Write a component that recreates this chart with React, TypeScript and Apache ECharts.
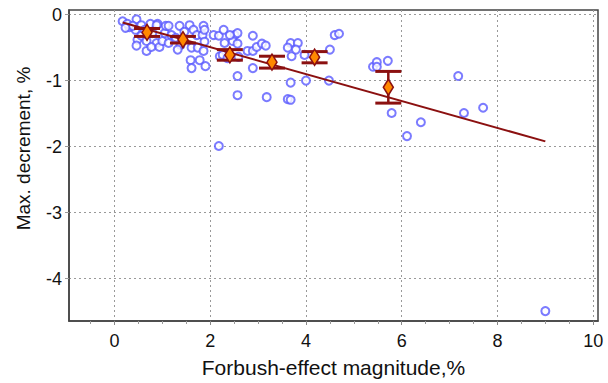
import React, { useEffect, useRef } from "react";
import * as echarts from "echarts";

const scatterX = [
  0.17, 0.31, 0.44, 0.46, 0.56, 0.48, 0.56, 0.67, 0.67, 0.79, 0.90, 0.88, 0.77, 0.94, 1.00, 1.05, 1.07, 0.75, 0.88, 0.27, 0.38, 0.63,
  1.13, 1.36, 1.19, 1.57, 1.65, 1.72, 1.86, 1.84, 2.07, 2.18, 1.13, 1.38, 1.61, 1.74, 1.86, 2.20, 1.59, 1.78, 1.61, 1.90, 1.88, 1.28, 1.46, 1.88, 1.32,
  2.28, 2.51, 2.57, 2.30, 2.47, 2.57, 2.26, 2.36, 2.59, 2.89, 2.78, 2.89, 2.97, 3.08, 2.89, 2.57, 2.57, 3.18, 2.18, 2.41, 3.16,
  3.68, 3.83, 3.62, 3.70, 3.97, 4.60, 4.69, 4.50, 3.68, 4.00, 4.48, 3.62, 3.68, 3.79,
  5.40, 5.48, 5.48, 5.71, 5.79, 6.11, 6.40, 7.18, 7.30, 7.70, 9.00, 0.46, 0.23,
];
const scatterY = [
  -0.10, -0.19, -0.23, -0.07, -0.16, -0.38, -0.32, -0.40, -0.55, -0.28, -0.14, -0.43, -0.49, -0.49, -0.40, -0.28, -0.17, -0.14, -0.16, -0.14, -0.17, -0.23,
  -0.17, -0.17, -0.31, -0.16, -0.23, -0.31, -0.17, -0.31, -0.31, -0.32, -0.43, -0.46, -0.50, -0.50, -0.55, -0.63, -0.69, -0.69, -0.81, -0.78, -0.41, -0.35, -0.26, -0.23, -0.53,
  -0.23, -0.31, -0.28, -0.43, -0.40, -0.44, -0.61, -0.66, -0.64, -0.32, -0.55, -0.55, -0.49, -0.44, -0.81, -0.93, -1.22, -1.25, -1.99, -0.31, -0.47,
  -0.43, -0.43, -0.50, -0.63, -0.61, -0.31, -0.29, -0.53, -1.03, -1.00, -1.00, -1.28, -1.29, -0.53,
  -0.79, -0.72, -0.79, -0.70, -1.49, -1.84, -1.63, -0.93, -1.49, -1.41, -4.49, -0.47, -0.20,
];

const meanX = [0.68, 1.43, 2.41, 3.29, 4.18, 5.72];
const meanY = [-0.27, -0.38, -0.61, -0.72, -0.645, -1.10];
const meanErr = [0.06, 0.05, 0.08, 0.09, 0.085, 0.24];

const fitX = [0.17, 9.0];
const fitY = [-0.12, -1.92];

const xTickValues = [0, 2, 4, 6, 8, 10];
const xMinorTickValues = [-0.5, 0.5, 1, 1.5, 2.5, 3, 3.5, 4.5, 5, 5.5, 6.5, 7, 7.5, 8.5, 9, 9.5];
const yTickValues = [0, -1, -2, -3, -4];

const FONT = "Liberation Sans, Arial, sans-serif";
const DARK_RED = "#8b1010";

export default function App() {
  const ref = useRef<HTMLDivElement>(null);
  useEffect(() => {
    if (!ref.current) return;
    const chart = echarts.init(ref.current, null, { renderer: "svg" });
    const scatterData = scatterX.map((x, i) => [x, scatterY[i]]);
    const meanData = meanX.map((x, i) => [x, meanY[i], meanErr[i]]);
    const fitData = fitX.map((x, i) => [x, fitY[i]]);
    chart.setOption({
      animation: false,
      backgroundColor: "#ffffff",
      grid: {
        left: 69,
        right: 10,
        top: 10,
        bottom: 62,
        show: true,
        borderColor: "#444",
        borderWidth: 1.5,
        backgroundColor: "transparent",
      },
      xAxis: [
        {
          type: "value",
          min: -0.95,
          max: 10.1,
          position: "bottom",
          name: "Forbush-effect magnitude,%",
          nameLocation: "middle",
          nameGap: 36,
          nameTextStyle: { fontFamily: FONT, fontSize: 21, color: "#111" },
          axisLine: { show: true, onZero: false, lineStyle: { color: "#444", width: 1.5 } },
          axisTick: { show: true, customValues: xTickValues, length: 4, lineStyle: { color: "#888" } },
          axisLabel: { customValues: xTickValues, margin: 11, fontFamily: FONT, fontSize: 18, color: "#111" },
          splitLine: { show: true, lineStyle: { color: "#999", type: [2, 3], width: 1 } },
        },
        {
          type: "value",
          min: -0.95,
          max: 10.1,
          position: "bottom",
          axisLine: { show: false, onZero: false },
          axisTick: { show: true, customValues: xMinorTickValues, length: 3, lineStyle: { color: "#999" } },
          axisLabel: { show: false },
          splitLine: { show: false },
        },
      ],
      yAxis: {
        type: "value",
        min: -4.64,
        max: 0.07,
        name: "Max. decrement, %",
        nameLocation: "middle",
        nameGap: 36,
        nameTextStyle: { fontFamily: FONT, fontSize: 19, color: "#111", padding: [0, 0, 0, 34] },
        axisLine: { show: true, onZero: false, lineStyle: { color: "#444", width: 1.5 } },
        axisTick: { show: true, customValues: yTickValues, length: 4, lineStyle: { color: "#999" } },
        axisLabel: { customValues: yTickValues, margin: 7, fontFamily: FONT, fontSize: 18, color: "#111" },
        splitLine: { show: true, lineStyle: { color: "#999", type: [2, 3], width: 1 } },
      },
      series: [
        {
          type: "scatter",
          data: scatterData,
          symbol: "emptyCircle",
          symbolSize: 8,
          itemStyle: { color: "#5a5aff", borderColor: "#5a5aff", borderWidth: 1.2 },
          z: 2,
        },
        {
          type: "line",
          data: fitData,
          showSymbol: false,
          lineStyle: { color: DARK_RED, width: 2 },
          z: 3,
        },
        {
          type: "custom",
          data: meanData,
          z: 4,
          renderItem: (params: any, api: any) => {
            const x = api.value(0);
            const y = api.value(1);
            const e = api.value(2);
            const top = api.coord([x, y + e]);
            const bot = api.coord([x, y - e]);
            const c = api.coord([x, y]);
            const hw = 13;
            const dw = 5;
            const dh = 8;
            return {
              type: "group",
              children: [
                { type: "line", shape: { x1: top[0], y1: top[1], x2: bot[0], y2: bot[1] }, style: { stroke: DARK_RED, lineWidth: 2.5 } },
                { type: "line", shape: { x1: top[0] - hw, y1: top[1], x2: top[0] + hw, y2: top[1] }, style: { stroke: DARK_RED, lineWidth: 3 } },
                { type: "line", shape: { x1: bot[0] - hw, y1: bot[1], x2: bot[0] + hw, y2: bot[1] }, style: { stroke: DARK_RED, lineWidth: 3 } },
                {
                  type: "polygon",
                  shape: { points: [[c[0], c[1] - dh], [c[0] + dw, c[1]], [c[0], c[1] + dh], [c[0] - dw, c[1]]] },
                  style: { fill: "#ff8800", stroke: DARK_RED, lineWidth: 1.5 },
                },
              ],
            };
          },
        },
      ],
    });
    return () => chart.dispose();
  }, []);
  return <div ref={ref} style={{ position: "fixed", left: 0, top: 0, width: 608, height: 383, background: "#fff" }} />;
}
